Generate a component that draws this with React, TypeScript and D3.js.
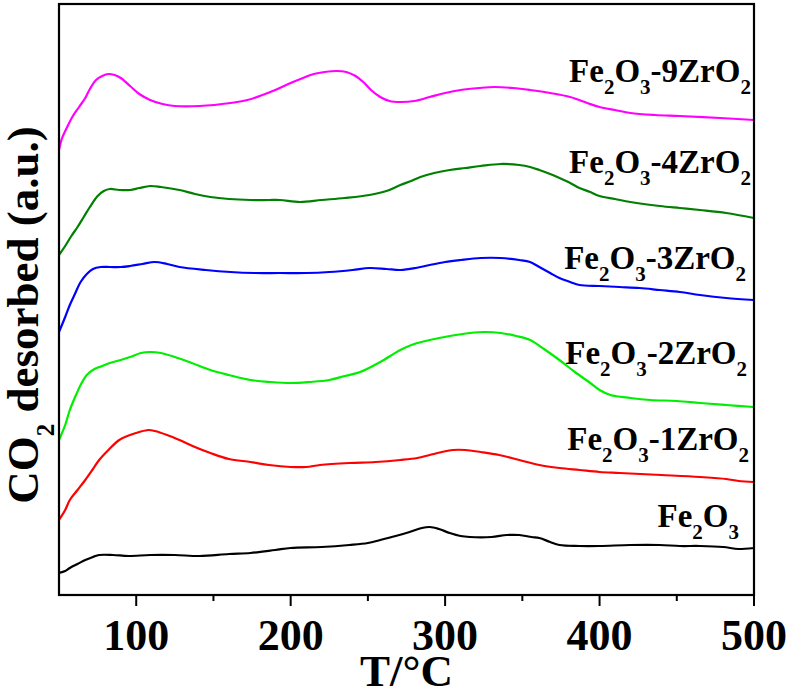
import React from "react";
import * as d3 from "d3";

// ---- Data (T in °C, signal in a.u.) ----
const xTicks = [100, 200, 300, 400, 500];
const xMinorTicks = [150, 250, 350, 450];

const fe2o3: [number, number][] = [
  [50, 27], [54, 29], [57, 32], [62, 36], [67, 40], [72, 43], [76, 45], [85, 45], [95, 44], [109, 45],
  [125, 45], [141, 44], [160, 46], [174, 47], [190, 50], [200, 52], [220, 53], [238, 55], [250, 57],
  [258, 60], [268, 64], [277, 68], [285, 72], [290, 73], [296, 71], [303, 67], [310, 64], [316, 63],
  [330, 63], [340, 65], [348, 65], [356, 63], [361, 62], [368, 58], [374, 55], [387, 54], [400, 54],
  [420, 55], [439, 55], [452, 54], [465, 54], [480, 53], [490, 51], [500, 52],
];

const zr1: [number, number][] = [
  [50, 80], [54, 90], [57, 100], [62, 110], [67, 120], [72, 131], [76, 140], [82, 150], [89, 160],
  [96, 165], [102, 168], [108, 170], [112, 169], [120, 165], [128, 160], [138, 153], [148, 147],
  [160, 141], [174, 138], [186, 135], [200, 133], [210, 133], [219, 135], [238, 137], [255, 138],
  [271, 140], [282, 142], [290, 145], [298, 148], [305, 150], [313, 150], [323, 148], [335, 145],
  [348, 140], [361, 135], [374, 132], [387, 130], [400, 128], [413, 127], [440, 125], [465, 123],
  [482, 121], [490, 119], [500, 118],
];

const zr2: [number, number][] = [
  [50, 160], [54, 175], [57, 190], [61, 205], [64, 215], [68, 225], [73, 231], [78, 234], [83, 237],
  [90, 240], [96, 243], [103, 247], [109, 248], [116, 247], [125, 243], [136, 237], [148, 230],
  [160, 225], [174, 220], [187, 218], [200, 217], [212, 218], [225, 220], [235, 224], [245, 228],
  [258, 238], [271, 250], [280, 256], [290, 260], [303, 264], [316, 267], [326, 268], [336, 267],
  [346, 264], [355, 260], [364, 251], [374, 240], [384, 228], [394, 217], [400, 210], [407, 205],
  [420, 202], [433, 200], [450, 199], [465, 197], [482, 195], [500, 193],
];

const zr3: [number, number][] = [
  [50, 268], [54, 283], [57, 295], [60, 305], [64, 318], [68, 326], [72, 331], [77, 333], [83, 333],
  [90, 333], [96, 334], [104, 336], [112, 338], [120, 336], [128, 333], [145, 330], [161, 328],
  [177, 327], [193, 327], [210, 327], [225, 328], [240, 330], [251, 332], [262, 331], [271, 330],
  [281, 332], [290, 335], [300, 338], [310, 340], [323, 342], [336, 342], [348, 340], [355, 338],
  [361, 333], [368, 327], [374, 322], [381, 318], [387, 315], [400, 314], [413, 313], [426, 312],
  [439, 310], [452, 308], [465, 305], [482, 302], [500, 300],
];

const zr4: [number, number][] = [
  [50, 345], [54, 354], [58, 364], [62, 373], [66, 383], [70, 393], [75, 404], [79, 409], [83, 411],
  [89, 410], [96, 410], [102, 412], [109, 414], [116, 413], [128, 410], [138, 406], [148, 403],
  [160, 401], [174, 400], [186, 400], [193, 400], [206, 398], [220, 400], [235, 402], [251, 405],
  [262, 409], [271, 415], [278, 419], [284, 423], [293, 427], [303, 430], [313, 432], [323, 434],
  [336, 436], [348, 435], [355, 433], [361, 430], [368, 426], [374, 422], [381, 417], [387, 412],
  [394, 408], [400, 404], [410, 401], [420, 398], [439, 394], [452, 392], [465, 390], [482, 387],
  [500, 382],
];

const zr9: [number, number][] = [
  [50, 450], [52, 462], [55, 472], [59, 484], [63, 493], [67, 502], [70, 511], [74, 520], [78, 524],
  [82, 526], [86, 525], [90, 522], [96, 514], [102, 506], [109, 500], [117, 496], [125, 494],
  [141, 494], [161, 497], [172, 500], [180, 504], [190, 510], [200, 517], [208, 522], [215, 526],
  [222, 528], [230, 529], [236, 528], [242, 524], [247, 518], [252, 510], [258, 503], [264, 499],
  [271, 498], [280, 499], [290, 503], [300, 507], [310, 510], [322, 512], [332, 513], [344, 512],
  [355, 510], [368, 507], [381, 503], [392, 497], [400, 493], [410, 490], [420, 487], [436, 485],
  [452, 484], [478, 482], [500, 480],
];

const seriesData = [fe2o3, zr1, zr2, zr3, zr4, zr9];
const seriesColors = ["#000000", "#ff0000", "#00ee00", "#0000ff", "#007f00", "#ff00ff"];
// label parts: [text, isSubscript]
const seriesLabels: [string, boolean][][] = [
  [["Fe", false], ["2", true], ["O", false], ["3", true]],
  [["Fe", false], ["2", true], ["O", false], ["3", true], ["-1ZrO", false], ["2", true]],
  [["Fe", false], ["2", true], ["O", false], ["3", true], ["-2ZrO", false], ["2", true]],
  [["Fe", false], ["2", true], ["O", false], ["3", true], ["-3ZrO", false], ["2", true]],
  [["Fe", false], ["2", true], ["O", false], ["3", true], ["-4ZrO", false], ["2", true]],
  [["Fe", false], ["2", true], ["O", false], ["3", true], ["-9ZrO", false], ["2", true]],
];
// label anchor (right end, baseline) in data units
const labelAnchors: [number, number][] = [
  [490.3, 73], [496.8, 150], [495.5, 236], [494.8, 331], [498, 427], [498, 518],
];

const W = 791;
const H = 696;
const margin = { left: 59, right: 754, top: 4, bottom: 595 };
const FONT = "Liberation Serif";

export default function App() {
  const x = d3.scaleLinear().domain([50, 500]).range([margin.left, margin.right]);
  const y = d3.scaleLinear().domain([5, 596]).range([margin.bottom, margin.top]);
  const line = d3
    .line<[number, number]>()
    .x((d) => x(d[0]))
    .y((d) => y(d[1]))
    .curve(d3.curveCatmullRom.alpha(0.5));

  const mainSize = 33;
  const subSize = 21;
  const subShift = 12;
  const ts = { fontFamily: FONT, fontWeight: 700 as const };

  return (
    <div style={{ position: "absolute", left: 0, top: 0 }}>
      <svg width={W} height={H} style={{ display: "block", background: "#fff" }}>
        <defs>
          <clipPath id="plot">
            <rect x={margin.left} y={margin.top} width={margin.right - margin.left} height={margin.bottom - margin.top} />
          </clipPath>
        </defs>
        <g clipPath="url(#plot)">
          {seriesData.map((s, i) => (
            <path key={i} d={line(s) || ""} fill="none" stroke={seriesColors[i]} strokeWidth={2.2} strokeLinejoin="round" />
          ))}
        </g>
        {/* frame */}
        <rect
          x={margin.left}
          y={margin.top}
          width={margin.right - margin.left}
          height={margin.bottom - margin.top}
          fill="none"
          stroke="#000"
          strokeWidth={2.2}
        />
        {/* ticks */}
        {xTicks.map((t) => (
          <line key={"M" + t} x1={x(t)} x2={x(t)} y1={margin.bottom} y2={margin.bottom + 11} stroke="#000" strokeWidth={2} />
        ))}
        {xMinorTicks.map((t) => (
          <line key={"m" + t} x1={x(t)} x2={x(t)} y1={margin.bottom} y2={margin.bottom + 6} stroke="#000" strokeWidth={2} />
        ))}
        {xTicks.map((t) => (
          <text key={"L" + t} x={x(t)} y={650} textAnchor="middle" fontSize={44} style={ts}>
            {t}
          </text>
        ))}
        <text x={(margin.left + margin.right) / 2} y={686} textAnchor="middle" fontSize={45} style={ts}>
          T/°C
        </text>
        {/* y label */}
        <text transform={`translate(38, ${315}) rotate(-90)`} textAnchor="middle" fontSize={45} style={ts}>
          <tspan>CO</tspan>
          <tspan fontSize={25} dy={16}>2</tspan>
          <tspan dy={-16}> desorbed (a.u.)</tspan>
        </text>
        {/* series labels */}
        {seriesLabels.map((parts, i) => {
          let shifted = false;
          return (
            <text
              key={"s" + i}
              x={x(labelAnchors[i][0])}
              y={y(labelAnchors[i][1])}
              textAnchor="end"
              fontSize={mainSize}
              style={ts}
            >
              {parts.map(([txt, sub], j) => {
                let dy = 0;
                if (sub && !shifted) {
                  dy = subShift;
                  shifted = true;
                } else if (!sub && shifted) {
                  dy = -subShift;
                  shifted = false;
                }
                return (
                  <tspan key={j} dy={dy} fontSize={sub ? subSize : mainSize}>
                    {txt}
                  </tspan>
                );
              })}
            </text>
          );
        })}
      </svg>
    </div>
  );
}
